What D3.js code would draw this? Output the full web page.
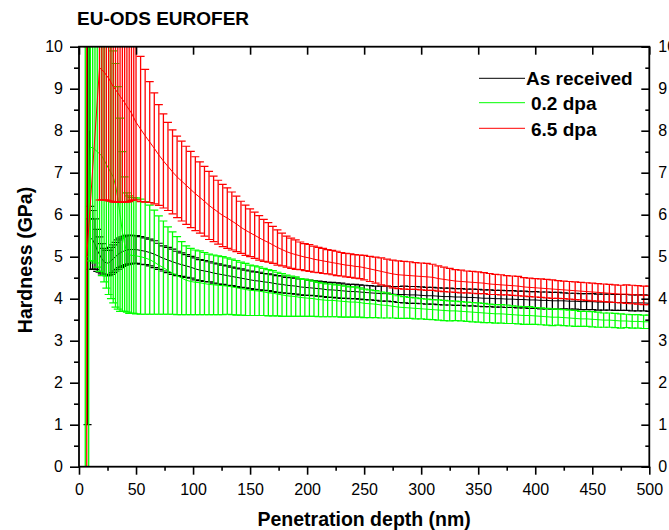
<!DOCTYPE html>
<html>
<head>
<meta charset="utf-8">
<script src="https://cdn.jsdelivr.net/npm/d3@7"></script>
<style>
  body { margin: 0; background: #fff; }
  svg { display: block; }
  text { font-family: "Liberation Sans", Arial, Helvetica, sans-serif; fill: #000; }
</style>
</head>
<body>
<svg id="chart" width="669" height="530"></svg>
<script>
// Depth grids shared by the three data sets (nm)
const depthMid = [
  50, 54, 58, 62, 66, 70, 74, 78, 82, 86,
  90, 94, 98, 102, 106, 110, 114, 118, 122, 126,
  130, 134, 138, 142, 146, 150, 154, 158, 162, 166,
  170, 174, 178, 182, 186, 190, 194, 198, 202, 206,
  210, 214, 218, 222, 226, 230, 234, 238, 242, 246,
  250
];
const depthTail = [
  255, 260, 265, 270, 275, 280, 285, 290, 295, 300,
  305, 310, 315, 320, 325, 330, 335, 340, 345, 350,
  355, 360, 365, 370, 375, 380, 385, 390, 395, 400,
  405, 410, 415, 420, 425, 430, 435, 440, 445, 450,
  455, 460, 465, 470, 475, 480, 485, 490, 495, 500
];

// As received: hardness (GPa) and its error
const asRecDepthHead = [7.5, 9.5, 10, 12, 14, 16, 18, 20, 22, 24, 26, 28, 30, 32, 34, 36, 38, 40, 42, 44, 46, 48];
const asRecHead    = [5.5, 8.0, 5.45, 5.4, 5.3, 5.15, 5.05, 4.95, 4.88, 4.85, 4.85, 4.9, 4.95, 5.0, 5.05, 5.09, 5.12, 5.14, 5.16, 5.17, 5.17, 5.17];
const asRecErrHead = [4.5, 2.1, 0.75, 0.7, 0.6, 0.5, 0.42, 0.36, 0.32, 0.3, 0.3, 0.32, 0.33, 0.34, 0.35, 0.35, 0.35, 0.35, 0.35, 0.34, 0.34, 0.33];
const asRecMid = [
  5.17, 5.15, 5.13, 5.1, 5.06, 5.01, 4.96, 4.92, 4.88, 4.84,
  4.81, 4.78, 4.75, 4.71, 4.68, 4.66, 4.64, 4.61, 4.59, 4.57,
  4.55, 4.53, 4.51, 4.49, 4.47, 4.45, 4.43, 4.42, 4.4, 4.39,
  4.37, 4.35, 4.34, 4.32, 4.31, 4.3, 4.28, 4.27, 4.26, 4.25,
  4.24, 4.23, 4.21, 4.21, 4.2, 4.19, 4.18, 4.17, 4.17, 4.16,
  4.15
];
const asRecErrMid = [
  0.33, 0.33, 0.32, 0.32, 0.32, 0.31, 0.3, 0.3, 0.3, 0.29,
  0.28, 0.27, 0.26, 0.26, 0.25, 0.25, 0.24, 0.24, 0.24, 0.23,
  0.23, 0.22, 0.22, 0.22, 0.21, 0.21, 0.21, 0.21, 0.2, 0.2,
  0.2, 0.2, 0.2, 0.19, 0.19, 0.19, 0.19, 0.19, 0.18, 0.18,
  0.18, 0.18, 0.18, 0.18, 0.18, 0.18, 0.17, 0.17, 0.17, 0.17,
  0.17
];
const asRecTail = [
  4.14, 4.13, 4.12, 4.12, 4.11, 4.1, 4.1, 4.09, 4.09, 4.08,
  4.07, 4.07, 4.06, 4.05, 4.05, 4.04, 4.04, 4.03, 4.03, 4.02,
  4.01, 4.01, 4.0, 4.0, 3.99, 3.99, 3.98, 3.98, 3.97, 3.97,
  3.96, 3.96, 3.95, 3.95, 3.95, 3.94, 3.94, 3.93, 3.93, 3.93,
  3.92, 3.92, 3.92, 3.91, 3.91, 3.91, 3.9, 3.9, 3.9, 3.89
];
const asRecErrTail = [
  0.17, 0.17, 0.18, 0.18, 0.18, 0.19, 0.2, 0.2, 0.2, 0.2,
  0.2, 0.2, 0.2, 0.2, 0.2, 0.2, 0.2, 0.2, 0.2, 0.2,
  0.2, 0.2, 0.2, 0.2, 0.2, 0.2, 0.2, 0.2, 0.2, 0.2,
  0.2, 0.2, 0.2, 0.2, 0.19, 0.19, 0.19, 0.19, 0.19, 0.19,
  0.19, 0.19, 0.19, 0.19, 0.19, 0.19, 0.19, 0.19, 0.19, 0.19
];

// 0.2 dpa
const dpa02DepthHead = [5.5, 8.5, 10, 12, 14, 16, 18, 20, 22, 24, 26, 28, 30, 32, 34, 36, 38, 40, 42, 44, 46, 48];
const dpa02Head    = [5.0, 5.0, 7.6, 7.6, 7.55, 7.5, 7.45, 7.4, 7.3, 7.2, 7.1, 7.0, 6.9, 6.7, 6.4, 6.0, 5.6, 5.3, 5.1, 5.05, 5.03, 5.03];
const dpa02ErrHead = [6.0, 6.0, 2.7, 2.7, 2.7, 2.75, 2.8, 2.85, 2.9, 2.95, 3.0, 3.0, 3.0, 2.9, 2.65, 2.3, 1.9, 1.6, 1.42, 1.4, 1.38, 1.38];
const dpa02Mid = [
  5.02, 5.0, 4.97, 4.93, 4.87, 4.8, 4.74, 4.67, 4.61, 4.55,
  4.49, 4.44, 4.41, 4.39, 4.38, 4.36, 4.34, 4.33, 4.32, 4.31,
  4.3, 4.28, 4.26, 4.24, 4.22, 4.2, 4.19, 4.18, 4.16, 4.14,
  4.13, 4.11, 4.09, 4.07, 4.06, 4.05, 4.03, 4.02, 4.01, 4.0,
  3.98, 3.97, 3.96, 3.96, 3.95, 3.94, 3.93, 3.92, 3.92, 3.91,
  3.89
];
const dpa02ErrMid = [
  1.38, 1.37, 1.34, 1.3, 1.24, 1.17, 1.11, 1.04, 0.98, 0.93,
  0.87, 0.82, 0.79, 0.77, 0.76, 0.74, 0.72, 0.71, 0.7, 0.69,
  0.67, 0.66, 0.65, 0.63, 0.62, 0.6, 0.59, 0.58, 0.56, 0.55,
  0.54, 0.52, 0.51, 0.49, 0.48, 0.47, 0.45, 0.44, 0.43, 0.42,
  0.41, 0.4, 0.39, 0.39, 0.38, 0.38, 0.37, 0.36, 0.36, 0.35,
  0.34
];
const dpa02Tail = [
  3.88, 3.87, 3.85, 3.84, 3.82, 3.8, 3.79, 3.78, 3.77, 3.76,
  3.75, 3.74, 3.73, 3.72, 3.71, 3.71, 3.7, 3.69, 3.68, 3.67,
  3.66, 3.65, 3.64, 3.64, 3.63, 3.62, 3.61, 3.6, 3.6, 3.59,
  3.58, 3.57, 3.56, 3.56, 3.55, 3.54, 3.53, 3.52, 3.52, 3.51,
  3.5, 3.49, 3.49, 3.48, 3.47, 3.47, 3.46, 3.46, 3.45, 3.45
];
const dpa02ErrTail = [
  0.33, 0.32, 0.31, 0.3, 0.28, 0.27, 0.26, 0.25, 0.25, 0.24,
  0.24, 0.24, 0.24, 0.24, 0.24, 0.23, 0.23, 0.23, 0.23, 0.23,
  0.23, 0.22, 0.22, 0.22, 0.22, 0.21, 0.21, 0.21, 0.21, 0.2,
  0.2, 0.2, 0.2, 0.19, 0.19, 0.19, 0.19, 0.18, 0.18, 0.18,
  0.18, 0.17, 0.17, 0.17, 0.17, 0.16, 0.16, 0.16, 0.16, 0.16
];

// 6.5 dpa
const dpa65DepthHead = [6.8, 18, 20, 22, 24, 26, 28, 30, 32, 34, 36, 38, 40, 42, 44, 46, 48];
const dpa65Head    = [5.0, 9.5, 9.45, 9.4, 9.32, 9.25, 9.15, 9.05, 8.98, 8.9, 8.82, 8.75, 8.67, 8.58, 8.5, 8.42, 8.31];
const dpa65ErrHead = [6.0, 3.15, 3.1, 3.05, 2.97, 2.92, 2.83, 2.75, 2.68, 2.6, 2.52, 2.45, 2.37, 2.28, 2.19, 2.08, 1.96];
const dpa65Mid = [
  8.2, 8.04, 7.88, 7.73, 7.58, 7.42, 7.28, 7.15, 7.02, 6.9,
  6.8, 6.7, 6.6, 6.5, 6.41, 6.32, 6.22, 6.14, 6.06, 5.98,
  5.92, 5.85, 5.78, 5.7, 5.63, 5.57, 5.51, 5.45, 5.39, 5.34,
  5.28, 5.22, 5.17, 5.12, 5.08, 5.05, 5.02, 4.99, 4.97, 4.94,
  4.92, 4.9, 4.88, 4.86, 4.84, 4.82, 4.8, 4.79, 4.77, 4.76,
  4.74
];
const dpa65ErrMid = [
  1.85, 1.73, 1.58, 1.44, 1.32, 1.2, 1.12, 1.05, 1.0, 0.97,
  0.95, 0.93, 0.91, 0.88, 0.85, 0.83, 0.81, 0.78, 0.76, 0.74,
  0.72, 0.69, 0.66, 0.62, 0.6, 0.57, 0.55, 0.53, 0.5, 0.47,
  0.44, 0.42, 0.39, 0.37, 0.36, 0.35, 0.33, 0.32, 0.32, 0.31,
  0.3, 0.3, 0.29, 0.29, 0.29, 0.28, 0.28, 0.28, 0.28, 0.28,
  0.29
];
const dpa65Tail = [
  4.71, 4.68, 4.65, 4.62, 4.59, 4.57, 4.56, 4.55, 4.54, 4.53,
  4.52, 4.51, 4.48, 4.46, 4.44, 4.42, 4.41, 4.4, 4.39, 4.38,
  4.37, 4.35, 4.34, 4.33, 4.32, 4.31, 4.3, 4.28, 4.27, 4.26,
  4.25, 4.24, 4.23, 4.22, 4.21, 4.2, 4.19, 4.18, 4.17, 4.16,
  4.15, 4.14, 4.13, 4.12, 4.11, 4.11, 4.1, 4.09, 4.08, 4.08
];
const dpa65ErrTail = [
  0.3, 0.31, 0.32, 0.32, 0.33, 0.33, 0.33, 0.33, 0.32, 0.32,
  0.32, 0.31, 0.3, 0.29, 0.28, 0.27, 0.27, 0.26, 0.26, 0.26,
  0.25, 0.25, 0.24, 0.24, 0.23, 0.23, 0.23, 0.22, 0.22, 0.22,
  0.22, 0.22, 0.22, 0.21, 0.21, 0.21, 0.21, 0.21, 0.21, 0.21,
  0.21, 0.21, 0.21, 0.21, 0.21, 0.22, 0.22, 0.22, 0.22, 0.22
];

const seriesNames = ["As received", "0.2 dpa", "6.5 dpa"];
const seriesColors = ["#000000", "#00ff00", "#ff0000"];

const xTicks = [0, 50, 100, 150, 200, 250, 300, 350, 400, 450, 500];
const xMinor = [25, 75, 125, 175, 225, 275, 325, 375, 425, 475];
const yTicks = [0, 1, 2, 3, 4, 5, 6, 7, 8, 9, 10];
const yMinor = [0.5, 1.5, 2.5, 3.5, 4.5, 5.5, 6.5, 7.5, 8.5, 9.5];

function build(depthHead, head, errHead, mid, errMid, tail, errTail) {
  const depths = depthHead.concat(depthMid, depthTail);
  const h = head.concat(mid, tail);
  const e = errHead.concat(errMid, errTail);
  return depths.map((d, i) => ({ d: d, h: h[i], e: e[i] }));
}

const series = [
  build(asRecDepthHead, asRecHead, asRecErrHead, asRecMid, asRecErrMid, asRecTail, asRecErrTail),
  build(dpa02DepthHead, dpa02Head, dpa02ErrHead, dpa02Mid, dpa02ErrMid, dpa02Tail, dpa02ErrTail),
  build(dpa65DepthHead, dpa65Head, dpa65ErrHead, dpa65Mid, dpa65ErrMid, dpa65Tail, dpa65ErrTail)
];

const svg = d3.select("#chart");
const pLeft = 79, pRight = 649.3, pTop = 46.7, pBottom = 466.7;

const x = d3.scaleLinear().domain([0, 500]).range([pLeft, pRight]);
const y = d3.scaleLinear().domain([0, 10]).range([pBottom, pTop]);

svg.append("defs").append("clipPath").attr("id", "plotClip")
  .append("rect").attr("x", pLeft).attr("y", pTop)
  .attr("width", pRight - pLeft).attr("height", pBottom - pTop);

// Data: error bars with caps and the mean curve
const plot = svg.append("g").attr("clip-path", "url(#plotClip)");
const capHalf = 4;
series.forEach((pts, si) => {
  const col = seriesColors[si];
  const g = plot.append("g");
  g.selectAll("line.stem").data(pts).join("line")
    .attr("class", "stem")
    .attr("x1", p => x(p.d)).attr("x2", p => x(p.d))
    .attr("y1", p => y(p.h - p.e)).attr("y2", p => y(p.h + p.e))
    .attr("stroke", col).attr("stroke-width", 1.3);
  g.selectAll("line.capHi").data(pts).join("line")
    .attr("class", "capHi")
    .attr("x1", p => x(p.d) - capHalf).attr("x2", p => x(p.d) + capHalf)
    .attr("y1", p => y(p.h + p.e)).attr("y2", p => y(p.h + p.e))
    .attr("stroke", col).attr("stroke-width", 1.2);
  g.selectAll("line.capLo").data(pts).join("line")
    .attr("class", "capLo")
    .attr("x1", p => x(p.d) - capHalf).attr("x2", p => x(p.d) + capHalf)
    .attr("y1", p => y(p.h - p.e)).attr("y2", p => y(p.h - p.e))
    .attr("stroke", col).attr("stroke-width", 1.2);
  g.append("path").datum(pts)
    .attr("fill", "none").attr("stroke", col).attr("stroke-width", 1)
    .attr("d", d3.line().x(p => x(p.d)).y(p => y(p.h)));
});

// Axes
const fontSize = 16;
function styleAxis(g) {
  g.select(".domain").remove();
  g.selectAll("line").attr("stroke", "#000").attr("stroke-width", 1.6);
  g.selectAll("text").style("font-size", fontSize + "px").attr("fill", "#000");
}

svg.append("g").attr("transform", `translate(0,${pBottom})`)
  .call(d3.axisBottom(x).tickValues(xTicks).tickFormat(d3.format("d")).tickSize(8).tickPadding(9))
  .call(styleAxis);
svg.append("g").attr("transform", `translate(0,${pBottom})`)
  .call(d3.axisBottom(x).tickValues(xMinor).tickFormat("").tickSize(4))
  .call(styleAxis);
svg.append("g").attr("transform", `translate(0,${pTop})`)
  .call(d3.axisTop(x).tickValues(xTicks).tickFormat("").tickSize(-8))
  .call(styleAxis);

svg.append("g").attr("transform", `translate(${pLeft},0)`)
  .call(d3.axisLeft(y).tickValues(yTicks).tickFormat(d3.format("d")).tickSize(9).tickPadding(7))
  .call(styleAxis);
svg.append("g").attr("transform", `translate(${pLeft},0)`)
  .call(d3.axisLeft(y).tickValues(yMinor).tickFormat("").tickSize(5))
  .call(styleAxis);
svg.append("g").attr("transform", `translate(${pRight},0)`)
  .call(d3.axisRight(y).tickValues(yTicks).tickFormat(d3.format("d")).tickSize(-8).tickPadding(9))
  .call(styleAxis);
svg.append("g").attr("transform", `translate(${pRight},0)`)
  .call(d3.axisRight(y).tickValues(yMinor).tickFormat("").tickSize(-4))
  .call(styleAxis);

// Frame
svg.append("rect").attr("x", pLeft).attr("y", pTop)
  .attr("width", pRight - pLeft).attr("height", pBottom - pTop)
  .attr("fill", "none").attr("stroke", "#000").attr("stroke-width", 1.8);

// Titles
svg.append("text").attr("x", 77).attr("y", 25)
  .style("font-size", "19px").style("font-weight", "bold")
  .text("EU-ODS EUROFER");
svg.append("text").attr("x", (pLeft + pRight) / 2).attr("y", 526)
  .attr("text-anchor", "middle")
  .style("font-size", "19.5px").style("font-weight", "bold")
  .text("Penetration depth (nm)");
svg.append("text")
  .attr("transform", "translate(32,260) rotate(-90)")
  .attr("text-anchor", "middle")
  .style("font-size", "19.5px").style("font-weight", "bold")
  .text("Hardness (GPa)");

// Legend
const legendRows = [
  { y: 78.3, tx: 526, ty: 85 },
  { y: 102.7, tx: 531, ty: 110 },
  { y: 128.3, tx: 531, ty: 136 }
];
legendRows.forEach((r, i) => {
  svg.append("line").attr("x1", 479).attr("x2", 525)
    .attr("y1", r.y).attr("y2", r.y)
    .attr("stroke", seriesColors[i]).attr("stroke-width", 1);
  svg.append("text").attr("x", r.tx).attr("y", r.ty)
    .style("font-size", "19px").style("font-weight", "bold")
    .text(seriesNames[i]);
});
</script>
</body>
</html>
